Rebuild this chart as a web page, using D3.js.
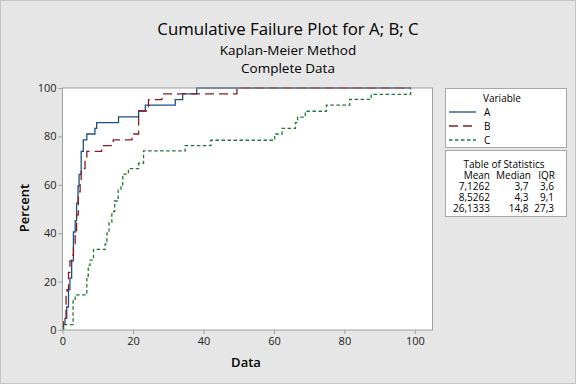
<!DOCTYPE html>
<html>
<head>
<meta charset="utf-8">
<script src="https://cdn.jsdelivr.net/npm/d3@7"></script>
<style>
  body { margin: 0; background: #e6e6e6; }
  svg { display: block; font-family: "Open Sans", "Noto Sans", sans-serif; }
</style>
</head>
<body>
<svg id="svg" width="576" height="384"></svg>
<script>
// step points: failure time and cumulative percent
var aTime = [0.2, 0.3, 0.7, 1.2, 1.7, 2.1, 2.6, 3.1, 3.6, 4.0, 4.4, 4.7, 5.3, 5.9, 6.9, 9.2, 9.7, 15.9, 21.6, 23.5, 32.0, 34.1, 38.1, 98.8];
var aPct  = [0, 2.4, 4.8, 9.5, 16.7, 21.4, 28.6, 40.5, 45.2, 52.4, 59.5, 64.3, 73.8, 78.6, 81.0, 83.3, 85.7, 88.1, 90.5, 92.9, 95.2, 97.6, 100, 100];

var bTime = [0.2, 0.2, 1.0, 1.3, 1.7, 2.1, 2.6, 3.1, 3.6, 4.0, 4.5, 5.0, 5.3, 6.4, 6.9, 11.1, 14.4, 19.7, 21.6, 24.4, 28.2, 49.5, 98.8];
var bPct  = [0, 4.8, 14.3, 16.7, 23.8, 28.6, 31.0, 35.7, 40.5, 47.6, 57.1, 61.9, 66.7, 71.4, 73.8, 76.2, 78.6, 81.0, 90.5, 95.2, 97.6, 100, 100];

var cTime = [0.2, 0.3, 3.0, 3.6, 6.9, 7.3, 7.8, 8.8, 12.1, 12.6, 13.2, 14.0, 14.8, 15.8, 16.6, 17.1, 18.7, 21.6, 23.0, 34.8, 42.1, 60.2, 62.3, 66.1, 66.7, 68.9, 74.9, 81.5, 87.6, 98.8];
var cPct  = [0, 2.2, 12.4, 14.5, 22.2, 26.7, 28.9, 33.3, 35.6, 40.0, 44.4, 48.9, 53.3, 57.8, 60.0, 64.4, 66.7, 68.9, 74.0, 76.2, 78.4, 81.0, 83.3, 85.7, 88.0, 90.4, 92.9, 95.3, 97.4, 100];

var seriesNames = ["A", "B", "C"];
var xTicks = [0, 20, 40, 60, 80, 100];
var yTicks = [0, 20, 40, 60, 80, 100];

var statHeader = ["Mean", "Median", "IQR"];
var statMean = ["7,1262", "8,5262", "26,1333"];
var statMedian = ["3,7", "4,3", "14,8"];
var statIqr = ["3,6", "9,1", "27,3"];

var svg = d3.select("svg"),
    width = +svg.attr("width"),
    height = +svg.attr("height");

var colors = ["#1d4f85", "#8a1c1c", "#1f7a31"];
var dashes = [null, "9,5", "3.5,2.5"];

var plotL = 62.5, plotR = 432.5, plotT = 88, plotB = 330;

svg.append("rect")
    .attr("x", 0.5).attr("y", 0.5)
    .attr("width", width - 1).attr("height", height - 1)
    .attr("fill", "#e6e6e6")
    .attr("stroke", "#c4c4c4");

var x = d3.scaleLinear().domain([0, 105]).range([plotL, plotR]);
var y = d3.scaleLinear().domain([0, 100]).range([plotB, plotT]);

svg.append("rect")
    .attr("x", plotL).attr("y", plotT)
    .attr("width", plotR - plotL).attr("height", plotB - plotT)
    .attr("fill", "white");

// titles
svg.append("text")
    .attr("x", 288).attr("y", 35)
    .attr("text-anchor", "middle")
    .style("font-size", "16.8px")
    .text("Cumulative Failure Plot for A; B; C");
svg.append("text")
    .attr("x", 288).attr("y", 54.5)
    .attr("text-anchor", "middle")
    .style("font-size", "13.5px")
    .text("Kaplan-Meier Method");
svg.append("text")
    .attr("x", 288).attr("y", 72.5)
    .attr("text-anchor", "middle")
    .style("font-size", "13.5px")
    .text("Complete Data");

// series
var series = [
    { time: aTime, pct: aPct },
    { time: bTime, pct: bPct },
    { time: cTime, pct: cPct }
];

var line = d3.line()
    .x(function (d) { return x(d[0]); })
    .y(function (d) { return y(d[1]); })
    .curve(d3.curveStepAfter);

svg.append("clipPath").attr("id", "plotclip")
    .append("rect")
    .attr("x", plotL).attr("y", plotT - 1)
    .attr("width", plotR - plotL).attr("height", plotB - plotT + 1);

var g = svg.append("g").attr("clip-path", "url(#plotclip)");

series.forEach(function (s, i) {
    var pts = s.time.map(function (t, j) { return [t, s.pct[j]]; });
    g.append("path")
        .attr("d", line(pts))
        .attr("fill", "none")
        .attr("stroke", colors[i])
        .attr("stroke-width", 1.3)
        .attr("stroke-dasharray", dashes[i]);
});

// frame
svg.append("rect")
    .attr("x", plotL).attr("y", plotT)
    .attr("width", plotR - plotL).attr("height", plotB - plotT)
    .attr("fill", "none")
    .attr("stroke", "#a0a0a0");

// axes
var xAxis = svg.append("g")
    .attr("transform", "translate(0," + plotB + ")")
    .call(d3.axisBottom(x).tickValues(xTicks).tickSize(4).tickPadding(3));
var yAxis = svg.append("g")
    .attr("transform", "translate(" + plotL + ",0)")
    .call(d3.axisLeft(y).tickValues(yTicks).tickSize(4).tickPadding(2));

[xAxis, yAxis].forEach(function (ax) {
    ax.select(".domain").remove();
    ax.selectAll("line").attr("stroke", "#a0a0a0");
    ax.selectAll("text")
        .style("font-family", "\"Open Sans\", sans-serif")
        .style("font-size", "11px")
        .attr("fill", "#222");
});

svg.append("text")
    .attr("x", 246).attr("y", 367)
    .attr("text-anchor", "middle")
    .style("font-size", "13px")
    .style("font-weight", "600")
    .text("Data");
svg.append("text")
    .attr("transform", "translate(29,208) rotate(-90)")
    .attr("text-anchor", "middle")
    .style("font-size", "13px")
    .style("font-weight", "600")
    .text("Percent");

// legend box
svg.append("rect")
    .attr("x", 445.5).attr("y", 88.5)
    .attr("width", 121).attr("height", 59)
    .attr("fill", "white").attr("stroke", "#a8a8a8");

svg.append("text")
    .attr("x", 502).attr("y", 102)
    .attr("text-anchor", "middle")
    .style("font-size", "10px")
    .text("Variable");

seriesNames.forEach(function (name, i) {
    var ly = 112 + i * 14;
    svg.append("line")
        .attr("x1", 449).attr("x2", 476)
        .attr("y1", ly).attr("y2", ly)
        .attr("stroke", colors[i])
        .attr("stroke-width", 1.3)
        .attr("stroke-dasharray", dashes[i]);
    svg.append("text")
        .attr("x", 484).attr("y", ly + 4)
        .style("font-size", "10px")
        .text(name);
});

// table of statistics
svg.append("rect")
    .attr("x", 445.5).attr("y", 150.5)
    .attr("width", 121).attr("height", 66)
    .attr("fill", "white").attr("stroke", "#a8a8a8");

svg.append("text")
    .attr("x", 504).attr("y", 168)
    .attr("text-anchor", "middle")
    .style("font-size", "10px")
    .text("Table of Statistics");

var headX = [490, 531, 555];
var colX = [490, 528.5, 554];
statHeader.forEach(function (h, i) {
    svg.append("text")
        .attr("x", headX[i]).attr("y", 179)
        .attr("text-anchor", "end")
        .style("font-size", "10px")
        .text(h);
});

[statMean, statMedian, statIqr].forEach(function (col, i) {
    col.forEach(function (v, j) {
        svg.append("text")
            .attr("x", colX[i]).attr("y", 190 + j * 11)
            .attr("text-anchor", "end")
            .style("font-size", "10px")
            .text(v);
    });
});
</script>
</body>
</html>
